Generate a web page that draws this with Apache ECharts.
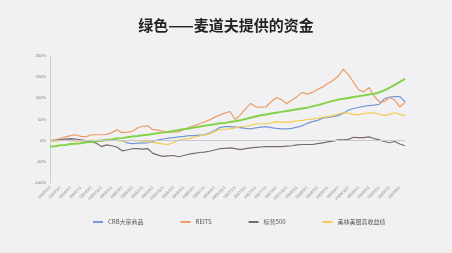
<!DOCTYPE html>
<html>
<head>
<meta charset="utf-8">
<script src="https://cdn.jsdelivr.net/npm/echarts@6/dist/echarts.min.js"></script>
<style>
  html, body { margin: 0; padding: 0; background: #f1f1f3; }
  #main { width: 452px; height: 253px; }
</style>
</head>
<body>
<div id="main"></div>
<script>
// 数据：月度累计收益率 (%)
const months = [];
for (let y = 2004; y <= 2009; y++) {
    for (let m = 1; m <= 12; m++) months.push(y + '/' + m + '/1');
}
const categories = months.slice(0, 70);

const crb = [-2,0,2,3,2,1,0,-1,-2,0,1,2,3,1,0,-5,-7,-6,-6,-5,-2,2,4,6,7,9,10,12,12,13,14,18,24,31,33,33,32,31,29,28,30,32,33,31,29,28,28,29,32,35,41,45,48,53,55,57,59,65,72,76,79,81,83,84,86,99,103,104,104,92];
const reits = [0,2,5,9,12,14,10,9,14,14,14,15,19,26,19,20,22,30,34,35,26,25,22,19,21,21,26,31,35,40,44,49,55,61,65,69,50,61,75,88,80,79,80,92,102,97,87,96,104,114,110,114,121,127,135,142,152,169,156,138,120,115,126,105,92,92,102,96,80,90];
const sp500 = [0,1,2,4,5,4,2,0,-3,-6,-14,-10,-12,-15,-24,-22,-19,-19,-20,-19,-30,-34,-37,-36,-35,-38,-35,-32,-30,-28,-27,-25,-22,-19,-18,-17,-19,-21,-19,-17,-16,-15,-14,-14,-14,-14,-13,-12,-10,-9,-9,-9,-7,-5,-3,-1,2,2,3,8,7,7,9,5,2,-2,-5,-2,-8,-12];
const highYield = [-2,-1,0,1,0,-1,0,0,1,0,-1,0,1,0,-1,0,1,0,-2,-2,-4,-6,-8,-9,-4,1,4,5,8,11,13,16,22,26,27,28,30,33,34,36,40,40,40,42,45,44,43,45,47,48,50,51,53,55,57,59,63,66,65,62,61,64,66,65,63,59,62,66,62,59];
const madoff = [-14,-13,-11,-10,-8,-7,-6,-4,-3,-1,0,2,3,5,6,8,10,11,13,14,16,18,19,21,23,25,27,29,31,33,35,37,39,41,42,44,46,48,51,54,57,60,62,64,66,68,70,72,74,76,78,81,84,87,91,94,97,99,101,103,105,107,109,111,114,119,125,132,139,146];
const yTicks = [-100, 200, 50];

const chart = echarts.init(document.getElementById('main'));
const line = (name, data, color, width) => ({
    name, type: 'line', data, showSymbol: false, symbol: 'none',
    lineStyle: { width, color }, itemStyle: { color }, animation: false
});

const series = [
    line('CRB大宗商品', crb, '#7597d6', 1.2),
    line('REITS', reits, '#ee9c66', 1.2),
    line('标普500', sp500, '#7a6a6c', 1.2),
    line('美林美银高收益债', highYield, '#f2cc4f', 1.2),
    line('麦道夫', madoff, '#84d24a', 2)
];
series[0].markLine = {
    silent: true, symbol: 'none', label: { show: false },
    lineStyle: { color: '#c9c9cd', type: 'solid', width: 1 },
    data: [{ yAxis: 0 }]
};

chart.setOption({
    backgroundColor: '#f1f1f3',
    title: {
        text: '绿色——麦道夫提供的资金', left: 'center', top: 13,
        textStyle: { fontSize: 15, fontWeight: 'bold', color: '#222', fontFamily: 'Noto Sans CJK SC' }
    },
    legend: {
        data: ['CRB大宗商品', 'REITS', '标普500', '美林美银高收益债'],
        left: 88, top: 214, itemWidth: 10, itemHeight: 2, itemGap: 37, icon: 'rect',
        textStyle: { fontSize: 6, color: '#555', fontFamily: 'Noto Sans CJK SC' }
    },
    grid: { left: 50, right: 47, top: 56, bottom: 70 },
    xAxis: {
        type: 'category', data: categories, boundaryGap: false,
        axisLine: { onZero: false, show: false },
        axisTick: { show: false },
        axisLabel: { interval: 1, rotate: 45, fontSize: 4, color: '#888', margin: 4 }
    },
    yAxis: {
        type: 'value', min: yTicks[0], max: yTicks[1], interval: yTicks[2],
        axisLine: { show: true, lineStyle: { color: '#cfcfd3' } },
        axisTick: { show: false },
        splitLine: { show: false },
        axisLabel: { fontSize: 4, color: '#777', margin: 4, formatter: v => v + '%' }
    },
    series
});
</script>
</body>
</html>
